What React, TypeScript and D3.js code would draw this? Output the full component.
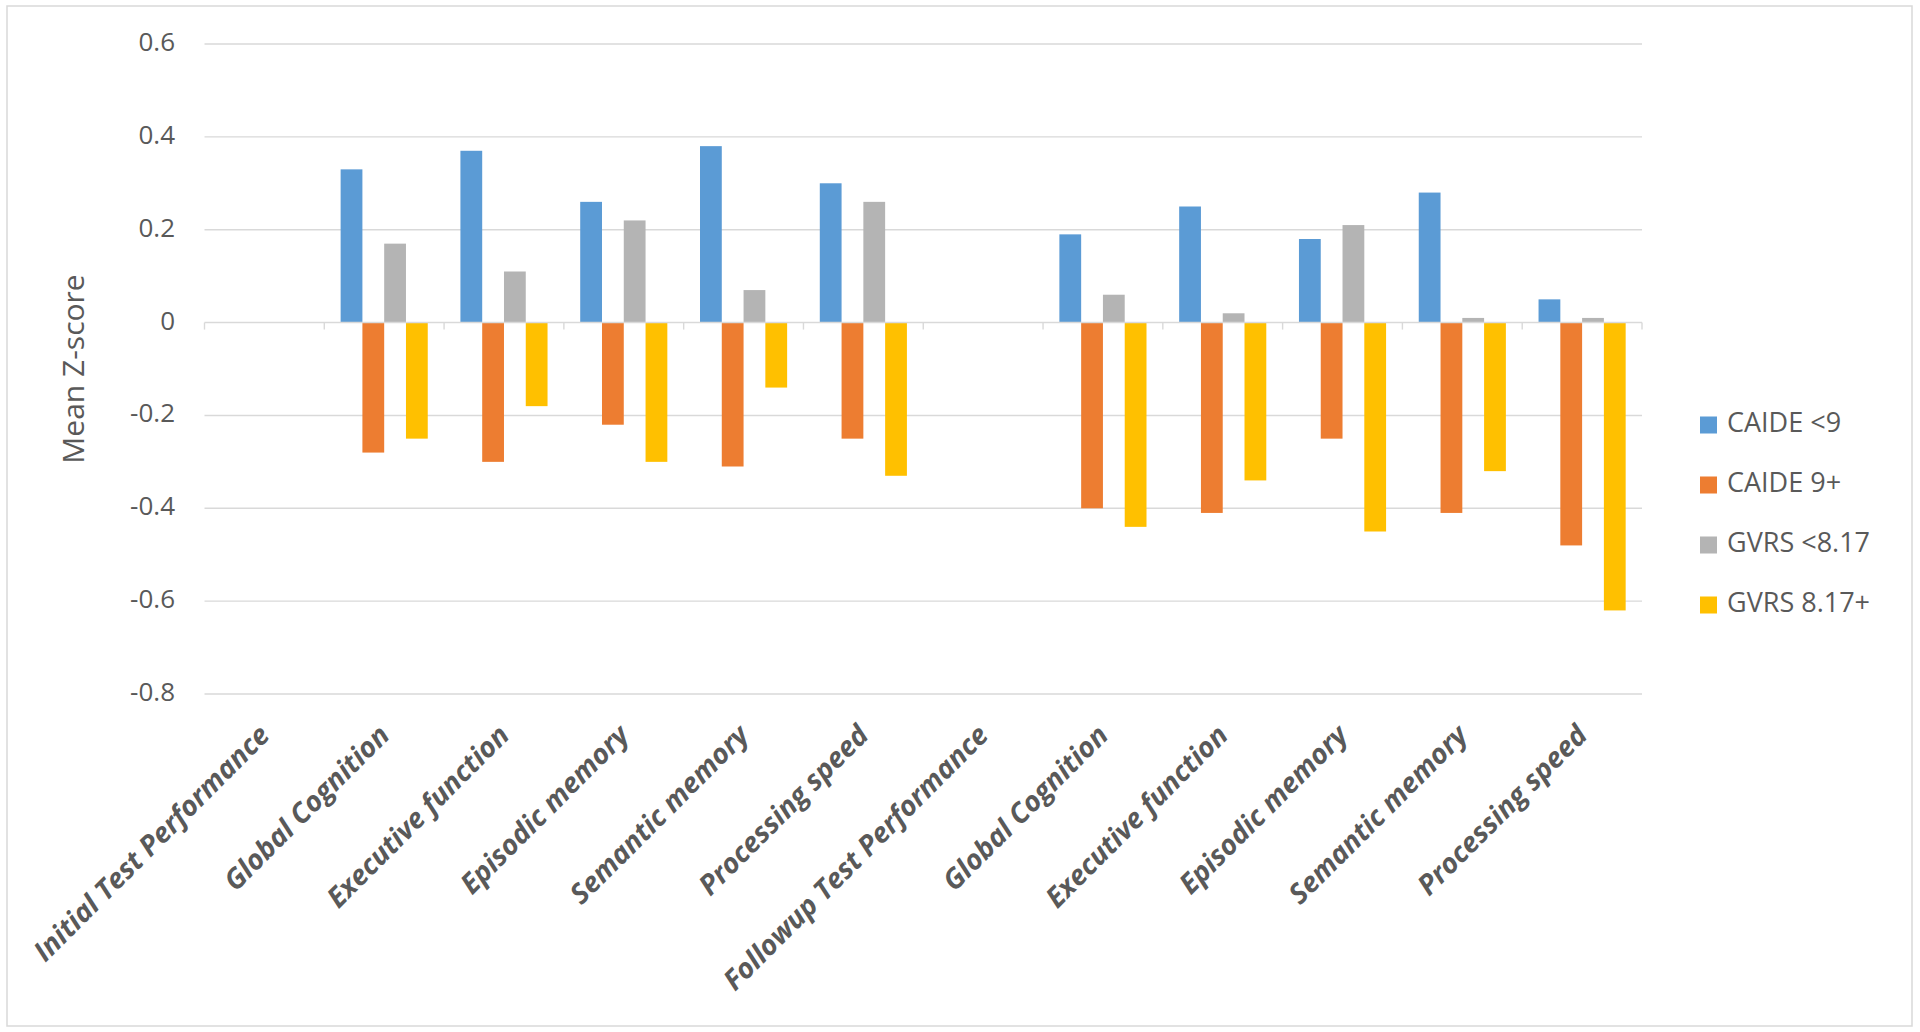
import React, { useEffect } from 'react';
import * as d3 from 'd3';

const categories = [
  'Initial Test Performance',
  'Global Cognition',
  'Executive function',
  'Episodic memory',
  'Semantic memory',
  'Processing speed',
  'Followup Test Performance',
  'Global Cognition',
  'Executive function',
  'Episodic memory',
  'Semantic memory',
  'Processing speed',
];
const seriesNames = ['CAIDE <9', 'CAIDE 9+', 'GVRS <8.17', 'GVRS 8.17+'];
const seriesColors = ['#5B9BD5', '#ED7D31', '#B4B4B4', '#FFC000'];
const caideLow: (number | null)[] = [null, 0.33, 0.37, 0.26, 0.38, 0.3, null, 0.19, 0.25, 0.18, 0.28, 0.05];
const caideHigh: (number | null)[] = [null, -0.28, -0.3, -0.22, -0.31, -0.25, null, -0.4, -0.41, -0.25, -0.41, -0.48];
const gvrsLow: (number | null)[] = [null, 0.17, 0.11, 0.22, 0.07, 0.26, null, 0.06, 0.02, 0.21, 0.01, 0.01];
const gvrsHigh: (number | null)[] = [null, -0.25, -0.18, -0.3, -0.14, -0.33, null, -0.44, -0.34, -0.45, -0.32, -0.62];
const yTicks = [0.6, 0.4, 0.2, 0, -0.2, -0.4, -0.6, -0.8];
const yTickLabels = ['0.6', '0.4', '0.2', '0', '-0.2', '-0.4', '-0.6', '-0.8'];
const yTitle = 'Mean Z-score';

const seriesValues = [caideLow, caideHigh, gvrsLow, gvrsHigh];

const W = 1920;
const H = 1032;
const plotLeft = 204.5;
const plotRight = 1642;
const plotTop = 44;
const plotBottom = 694;
const textColor = '#595959';
const gridColor = '#D9D9D9';
const font = '"Open Sans", "DejaVu Sans", sans-serif';

export default function App() {
  useEffect(() => {
    document.body.style.margin = '0';
  }, []);

  const idx = categories.map((_, i) => String(i));
  const x0 = d3.scaleBand<string>().domain(idx).range([plotLeft, plotRight]).padding(0);
  const x1 = d3
    .scaleBand<string>()
    .domain(seriesNames)
    .range([0, x0.bandwidth()])
    .paddingInner(0)
    .paddingOuter(0.75);
  const y = d3.scaleLinear().domain([-0.8, 0.6]).range([plotBottom, plotTop]);
  const y0 = y(0);

  const boundaries = d3.range(categories.length + 1).map((i) => plotLeft + i * x0.step());

  const legendY = [425, 485, 545, 605];

  return (
    <svg width={W} height={H} style={{ display: 'block', background: '#fff' }}>
      <rect x={7} y={6} width={1905} height={1020} fill="#fff" stroke={gridColor} strokeWidth={1.5} />
      {yTicks.map((t, k) => (
        <g key={t}>
          {t !== 0 && (
            <line x1={plotLeft} x2={plotRight} y1={y(t)} y2={y(t)} stroke={gridColor} strokeWidth={1.4} />
          )}
          <text
            x={175}
            y={y(t)}
            textAnchor="end"
            dominantBaseline="middle"
            fontFamily={font}
            fontSize={26}
            fill={textColor}
          >
            {yTickLabels[k]}
          </text>
        </g>
      ))}
      {seriesValues.map((vals, s) =>
        vals.map((v, i) => {
          if (v === null) return null;
          const bx = (x0(String(i)) as number) + (x1(seriesNames[s]) as number);
          const top = Math.min(y(v), y0);
          const h = Math.abs(y(v) - y0);
          return (
            <rect
              key={`${s}-${i}`}
              x={bx}
              y={top}
              width={x1.bandwidth()}
              height={h}
              fill={seriesColors[s]}
            />
          );
        })
      )}
      <line x1={plotLeft} x2={plotRight} y1={y0} y2={y0} stroke={gridColor} strokeWidth={1.4} />
      {boundaries.map((bx, i) => (
        <line key={i} x1={bx} x2={bx} y1={y0} y2={y0 + 7} stroke={gridColor} strokeWidth={1.4} />
      ))}
      {categories.map((c, i) => {
        const cx = (x0(String(i)) as number) + x0.bandwidth() / 2;
        const ly = plotBottom + 36;
        return (
          <text
            key={i}
            x={cx}
            y={ly}
            dy="0.35em"
            textAnchor="end"
            transform={`rotate(-45, ${cx}, ${ly})`}
            fontFamily={font}
            fontSize={28}
            fontWeight="bold"
            fontStyle="italic"
            fill={textColor}
          >
            {c}
          </text>
        );
      })}
      <text
        transform={`translate(76, 369) rotate(-90)`}
        textAnchor="middle"
        dominantBaseline="middle"
        fontFamily={font}
        fontSize={30}
        fill={textColor}
      >
        {yTitle}
      </text>
      {seriesNames.map((n, s) => (
        <g key={n}>
          <rect x={1700} y={legendY[s] - 8.5} width={17} height={17} fill={seriesColors[s]} />
          <text
            x={1727}
            y={legendY[s]}
            dominantBaseline="middle"
            fontFamily={font}
            fontSize={27}
            fill={textColor}
          >
            {n}
          </text>
        </g>
      ))}
    </svg>
  );
}
